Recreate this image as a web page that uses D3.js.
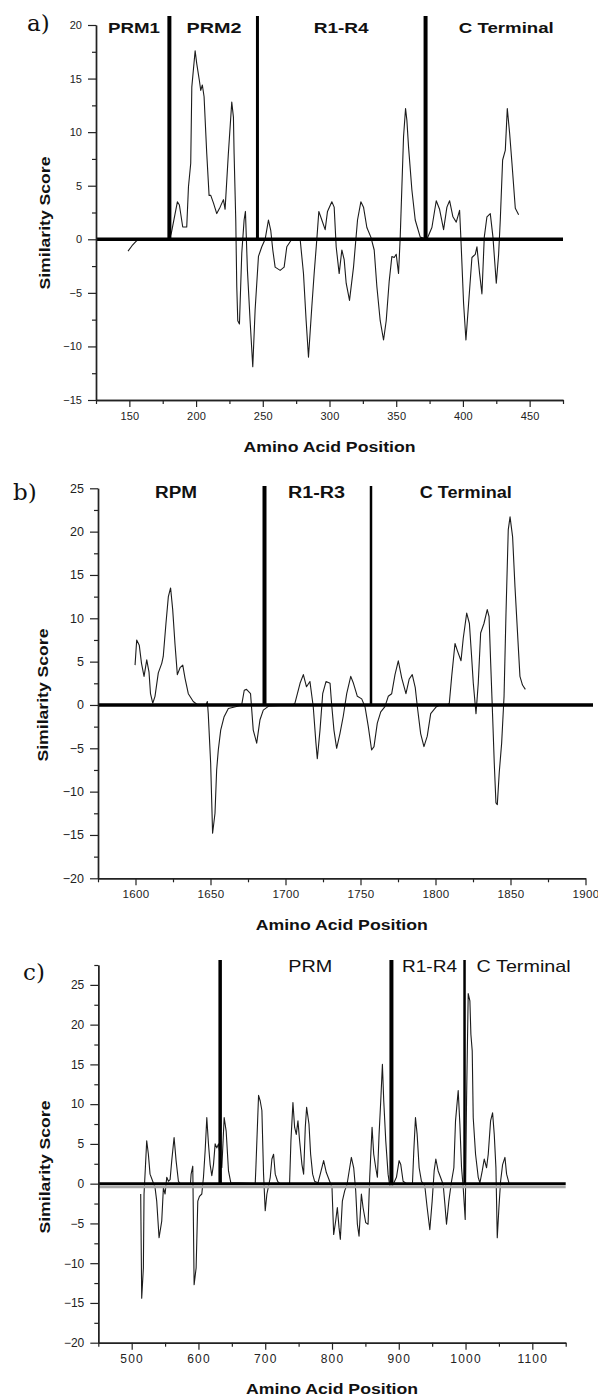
<!DOCTYPE html>
<html><head><meta charset="utf-8">
<script src="https://cdn.jsdelivr.net/npm/d3@7"></script>
<style>body{margin:0;background:#fff}svg{display:block}</style>
</head><body>
<svg id="chart" width="598" height="1399"></svg>
<script>
// ---------- Panel a ----------
const posA = [149,152,155,157,180,181.5,186,187.5,190,193,194.3,196,196.8,199.3,200.5,202.5,203.5,204.7,206,208,209.75,211,213,215.5,218,220.5,221.75,224.2,226.75,228,228.5,229.75,230.5,231.25,232.5,234.25,236,237,238.5,240.5,242.5,244.25,246.75,249.25,251.75,254.25,256,257.5,259.25,263,266,268,271.75,278,280.5,282.5,284.25,286.75,288.5,290.5,292,294.25,296.75,298.5,301.75,303.5,305,307.25,309.25,311,312.5,315,318,321,323.5,325.5,328,331,333.5,335.5,338,340.5,342.5,344.75,346.75,348.5,350,351.75,353,354.25,355.5,357,358,359.25,361.75,364.25,368,373,376.75,380,382.5,385.5,388,390,392.5,395,397.5,398.5,400.5,402.25,404.25,406.75,409.25,410.5,412.5,414.25,416,418,420.5,422.5,425,426.75,428,429.75,431.75,433.25,435,436.75,439.25,441.75];
const scoreA = [-1.1,-0.6,-0.2,0,0,0.6,3.5,3.2,1.15,1.15,4.9,7.1,14.2,17.6,16.4,14.8,13.9,14.4,13.3,8.0,4.1,4.1,3.4,2.4,3.0,3.7,2.8,8.0,12.8,11.4,8.0,1.8,-4.4,-7.6,-7.9,-1.3,1.8,2.6,-2.9,-7.6,-11.9,-6.6,-1.6,-0.7,0,1.8,0.8,-1.0,-2.6,-2.9,-2.6,-0.7,0,0,-3.2,-7.6,-11.0,-6.3,-3.2,0,2.6,1.8,0.9,2.6,3.5,3.0,-0.7,-3.2,-1.0,-1.9,-4.1,-5.7,-2.6,1.8,3.5,3.0,1.1,0.2,-1.0,-4.4,-7.6,-9.4,-7.6,-3.9,-1.6,-1.7,-1.4,-3.2,0.2,4.9,9.6,12.2,11.1,8.6,4.6,1.8,0.2,0,1.1,3.6,2.8,0.9,3.0,3.6,2.1,1.6,2.7,0,-6.0,-9.4,-6.0,-1.7,-1.4,-0.7,-3.2,-5.1,0.2,2.1,2.4,0.2,-4.1,-1.4,1.8,7.4,8.3,12.2,9.9,7.1,2.9,2.3];
const dividersA = [180, 246, 372];
const regionNamesA = ["PRM1", "PRM2", "R1-R4", "C Terminal"];
const regionCentersA = [153.5, 213.5, 308.75, 432.5];
const xTicksA = [150, 200, 250, 300, 350, 400, 450];
const yTicksA = [-15, -10, -5, 0, 5, 10, 15, 20];

// ---------- Panel b ----------
const posB = [1599.7,1600.8,1602.5,1604,1605.7,1607.5,1609,1610,1611.5,1613,1615.2,1617.5,1618.5,1620.3,1621.9,1623.4,1624.8,1626.3,1627.9,1629.7,1631.5,1633,1635.2,1638.5,1641.5,1647,1647.9,1648.5,1650.1,1651.4,1653,1654.1,1655.2,1656.8,1659,1661.9,1666.7,1670.8,1672.5,1674,1676.7,1678.5,1680.8,1683,1685.2,1689,1705,1706.3,1709.7,1711.9,1714,1716.3,1718.5,1720.3,1721.2,1723,1724.8,1727,1729.7,1730.7,1732.3,1734.1,1736.3,1738.5,1740.8,1743.5,1745.3,1747.9,1750.8,1753,1755.2,1757.4,1759,1761.2,1763.5,1766.3,1768.5,1770.8,1773,1775.2,1777.5,1780.3,1782.5,1784.5,1786.5,1787.9,1790.1,1792.3,1794.5,1796.8,1800.6,1803,1808,1809.2,1810.8,1813,1814.5,1817,1818.5,1820.8,1822.6,1824.1,1825.2,1827,1828.5,1830.1,1832.3,1834.5,1835.7,1836.8,1838.1,1839.2,1840.3,1841.2,1842.5,1844.1,1845.7,1847,1848.5,1849.7,1851.4,1853,1855.2,1856.3,1858,1859.9];
const scoreB = [4.6,7.5,6.9,4.8,3.3,5.2,3.8,1.3,0.2,1.0,3.7,4.8,5.6,9.4,12.5,13.5,11.0,7.1,3.5,4.3,4.6,3.1,1.3,0.4,0,0,0.4,-1.0,-6.7,-14.8,-12.5,-7.5,-5.2,-2.9,-1.4,-0.4,-0.2,0,1.7,1.8,1.3,-2.9,-4.4,-1.7,-0.6,-0.1,0,0.2,2.5,3.5,2.1,2.7,-0.2,-4.4,-6.2,-2.9,1.3,2.7,2.5,0.2,-2.9,-5.0,-3.3,-1.3,1.3,3.3,2.5,1.0,0.7,-0.2,-2.5,-5.2,-4.8,-2.1,-0.8,-0.2,1.0,1.3,3.5,5.1,3.1,1.3,3.0,3.5,2.0,-0.2,-3.3,-4.8,-3.6,-1.0,-0.2,0,0,0.2,3.3,7.1,6.3,5.1,7.7,10.6,9.4,5.5,2.5,-1.0,2.5,8.3,9.4,11.0,10.2,4.8,-1.4,-6.8,-11.3,-11.5,-7.8,-4.4,1.0,10.6,20.2,21.7,19.4,13.6,6.7,3.3,2.3,1.8];
const dividersB = [1686, 1757];
const regionNamesB = ["RPM", "R1-R3", "C Terminal"];
const regionCentersB = [1627, 1720.7, 1820.2];
const xTicksB = [1600, 1650, 1700, 1750, 1800, 1850, 1900];
const yTicksB = [-20, -15, -10, -5, 0, 5, 10, 15, 20, 25];

// ---------- Panel c ----------
const posC = [513.5,515,517.5,518.5,520.5,522.5,525,527.5,531.5,535,537.5,541,545,547.5,550,552.5,555,557.5,560,563.5,566.5,570,572.5,588,589,591.5,593.5,596.5,599,601.5,605,607.5,610,612.5,615,617.5,620,622.5,625,627.5,630,635,638.5,641.5,645,648.5,685,686,690,692.5,695,697.5,700,702.5,705,707.5,710,712.5,715,718.5,722,735,736.5,738.5,741.5,744,746.5,749,751.5,755,757.5,760,762,765.5,768,771,774,779,783,787.5,791.5,796.5,800,802.5,805.5,808,810.5,812.5,815.5,819,822.5,826.5,829,832.5,835.5,838,840.5,844,846.5,850.5,854,856.5,860,862.5,865.5,868,870.5,873,875.5,877.5,880.5,884,886.5,890.5,896.5,900.5,903,906.5,911.5,920.5,922.5,925,927.5,930.5,934,939,942.5,946.5,950,953,955.5,959,962.5,966.5,969,971.5,975,979,982.5,985,989,991.5,994,996.5,999.5,1001.5,1004,1006.5,1008,1010,1011.5,1015,1019,1021.5,1025,1028,1031.5,1034,1037.5,1040.5,1043,1045.5,1047.5,1050,1052.5,1055.5,1059,1061.5,1065];
const scoreC = [-1.3,-14.4,-10.6,-1.3,2.0,5.4,3.7,1.2,0.3,-0.5,-2.2,-6.8,-4.7,-0.5,-1.3,0.8,0.3,0.5,2.9,5.8,2.9,0.3,0,0,1.2,2.2,-12.7,-10.6,-2.2,-1.6,-1.3,0.8,4.1,8.3,5.0,2.4,1.0,2.4,5.0,4.5,5.0,2.0,8.3,6.6,1.6,0.1,0,2.0,11.1,10.4,9.2,1.2,-3.4,-1.3,-0.3,0.8,3.1,3.7,1.2,0.3,0,0,0.1,5.4,10.2,7.1,6.2,7.9,5.4,2.4,1.2,7.1,9.6,7.5,3.7,1.2,0.3,0.1,1.4,2.9,1.4,0.3,-0.5,-6.4,-4.7,-3.0,-5.5,-7.0,-2.2,-0.9,-0.1,2.0,3.3,2.0,-0.9,-5.1,-6.6,-1.3,-3.0,-4.9,-5.1,0.8,7.1,3.7,2.0,0.8,6.2,10.4,15.0,10.4,5.4,1.2,-0.3,-0.3,0.8,2.9,2.4,0.3,0,0,4.1,8.3,6.2,2.0,0.3,-0.3,-3.0,-5.8,-2.2,1.6,3.1,1.6,0.8,-0.1,-2.5,-5.1,-2.2,0.3,2.0,7.9,11.7,7.5,2.0,-0.5,-4.5,10.4,23.9,23.0,18.8,16.7,8.3,3.7,0.8,0.1,1.6,3.1,2.0,3.7,7.9,8.9,6.2,2.0,-6.8,-3.0,0.3,2.4,3.3,1.2,0.1];
const dividersC = [632.5, 889, 998.5];
const regionNamesC = ["PRM", "R1-R4", "C Terminal"];
const regionCentersC = [767.5, 946, 1087];
const xTicksC = [500, 600, 700, 800, 900, 1000, 1100];
const yTicksC = [-20, -15, -10, -5, 0, 5, 10, 15, 20, 25];

const panelLetters = ["a)", "b)", "c)"];
const xTitle = "Amino Acid Position";
const yTitle = "Similarity Score";

// ---------- layout / style ----------
const FONT = "'Liberation Sans', Arial, sans-serif";
const panels = [
  { letter: panelLetters[0], pos: posA, score: scoreA, dividers: dividersA, divW: [4, 3, 4],
    names: regionNamesA, centers: regionCentersA, nameLens: [52, 55, 55, 95], nameBold: true, nameSize: 15.5, nameY: 33,
    xTicks: xTicksA, yTicks: yTicksA, xDomain: [125, 475], yDomain: [-15, 20], xMinorStep: 25, yMinorStep: 2.5,
    xRange: [96, 563], yRange: [400, 25], divTop: 16, zeroEnd: 563,
    letterPos: [27, 31], xTickFont: 11, xTickSpacing: 0.2, yTickFont: 11,
    xTitleY: 452, yTitleX: 50, yTitleCY: 223 },
  { letter: panelLetters[1], pos: posB, score: scoreB, dividers: dividersB, divW: [4, 2.5],
    names: regionNamesB, centers: regionCentersB, nameLens: [42, 57, 92], nameBold: true, nameSize: 16, nameY: 498,
    xTicks: xTicksB, yTicks: yTicksB, xDomain: [1575, 1900], yDomain: [-20, 25], xMinorStep: 25, yMinorStep: 2.5,
    xRange: [98, 585.5], yRange: [878.3, 488.3], divTop: 486, zeroEnd: 593,
    letterPos: [13, 500], xTickFont: 11.5, xTickSpacing: 0.3, yTickFont: 12.5,
    xTitleY: 930, yTitleX: 48, yTitleCY: 695 },
  { letter: panelLetters[2], pos: posC, score: scoreC, dividers: dividersC, divW: [3.5, 4, 2.5],
    names: regionNamesC, centers: regionCentersC, nameLens: [44, 55, 94], nameBold: false, nameSize: 16.5, nameY: 972,
    xTicks: xTicksC, yTicks: yTicksC, xDomain: [450, 1150], yDomain: [-20, 27.5], xMinorStep: 50, yMinorStep: 2.5,
    xRange: [98.3, 565.7], yRange: [1342.7, 965], divTop: 960, zeroEnd: 565.7,
    letterPos: [23, 980], xTickFont: 12, xTickSpacing: 1.2, yTickFont: 12,
    xTitleY: 1394, yTitleX: 50, yTitleCY: 1167, grayBand: true }
];

const svg = d3.select("#chart");

function drawPanel(p) {
  const x = d3.scaleLinear().domain(p.xDomain).range(p.xRange);
  const y = d3.scaleLinear().domain(p.yDomain).range(p.yRange);
  const g = svg.append("g");
  const xMinor = d3.range(p.xDomain[0], p.xDomain[1] + 1e-6, p.xMinorStep).filter(v => !p.xTicks.includes(v));
  const yMinor = d3.range(p.yDomain[0], p.yDomain[1] + 1e-6, p.yMinorStep).filter(v => !p.yTicks.includes(v));

  // data line
  const data = p.pos.map((v, i) => [v, p.score[i]]);
  g.append("path").datum(data)
    .attr("fill", "none").attr("stroke", "#1c1c1c").attr("stroke-width", 1.1)
    .attr("stroke-linejoin", "round")
    .attr("d", d3.line().x(d => x(d[0])).y(d => y(d[1])));

  // zero line
  if (p.grayBand) {
    g.append("line").attr("x1", x(p.xDomain[0])).attr("x2", p.zeroEnd)
      .attr("y1", y(0) + 3).attr("y2", y(0) + 3).attr("stroke", "#a8a8a8").attr("stroke-width", 3);
  }
  g.append("line").attr("x1", x(p.xDomain[0])).attr("x2", p.zeroEnd)
    .attr("y1", y(0)).attr("y2", y(0)).attr("stroke", "#000").attr("stroke-width", p.grayBand ? 2.6 : 3.4);

  // dividers
  g.selectAll(".div").data(p.dividers).join("line")
    .attr("x1", d => x(d)).attr("x2", d => x(d))
    .attr("y1", y(0) + 1).attr("y2", p.divTop)
    .attr("stroke", "#000").attr("stroke-width", (d, i) => p.divW[i]);

  // axes
  const axisStyle = sel => {
    sel.selectAll("path.domain").attr("stroke", "#222").attr("stroke-width", 1.4);
    sel.selectAll(".tick line").attr("stroke", "#222").attr("stroke-width", 1.2);
  };
  const xAxisG = g.append("g").attr("transform", `translate(0,${p.yRange[0]})`);
  xAxisG.call(d3.axisBottom(x).tickValues(p.xTicks).tickSize(7).tickSizeOuter(0).tickPadding(5).tickFormat(d3.format("d")))
    .call(axisStyle);
  xAxisG.selectAll("text").attr("font-family", FONT).attr("font-size", p.xTickFont)
    .attr("letter-spacing", p.xTickSpacing).attr("fill", "#222");
  g.append("g").attr("transform", `translate(0,${p.yRange[0]})`)
    .call(d3.axisBottom(x).tickValues(xMinor).tickSize(4).tickSizeOuter(0).tickFormat(""))
    .call(axisStyle);

  const yAxisG = g.append("g").attr("transform", `translate(${p.xRange[0]},0)`);
  yAxisG.call(d3.axisLeft(y).tickValues(p.yTicks).tickSize(8).tickSizeOuter(0).tickPadding(6).tickFormat(d3.format("d")))
    .call(axisStyle);
  yAxisG.selectAll("text").attr("font-family", FONT).attr("font-size", p.yTickFont).attr("fill", "#222");
  g.append("g").attr("transform", `translate(${p.xRange[0]},0)`)
    .call(d3.axisLeft(y).tickValues(yMinor).tickSize(4).tickSizeOuter(0).tickFormat(""))
    .call(axisStyle);

  // region names
  g.selectAll(".rname").data(p.names).join("text")
    .attr("x", (d, i) => x(p.centers[i])).attr("y", p.nameY)
    .attr("text-anchor", "middle").attr("font-family", FONT)
    .attr("font-weight", p.nameBold ? "bold" : "normal").attr("font-size", p.nameSize)
    .attr("textLength", (d, i) => p.nameLens[i]).attr("lengthAdjust", "spacingAndGlyphs")
    .attr("fill", "#111").text(d => d);

  // panel letter
  g.append("text").attr("x", p.letterPos[0]).attr("y", p.letterPos[1])
    .attr("font-family", "'DejaVu Serif', 'Liberation Serif', serif").attr("font-size", 23)
    .attr("fill", "#111").text(p.letter);

  // axis titles
  const cx = (p.xRange[0] + p.xRange[1]) / 2;
  g.append("text").attr("x", cx).attr("y", p.xTitleY).attr("text-anchor", "middle")
    .attr("font-family", FONT).attr("font-weight", "bold").attr("font-size", 14)
    .attr("textLength", 172).attr("lengthAdjust", "spacingAndGlyphs").attr("fill", "#111").text(xTitle);
  g.append("text").attr("transform", `translate(${p.yTitleX},${p.yTitleCY}) rotate(-90)`)
    .attr("text-anchor", "middle")
    .attr("font-family", FONT).attr("font-weight", "bold").attr("font-size", 14)
    .attr("textLength", 133).attr("lengthAdjust", "spacingAndGlyphs").attr("fill", "#111").text(yTitle);
}

panels.forEach(drawPanel);
</script>
</body></html>
